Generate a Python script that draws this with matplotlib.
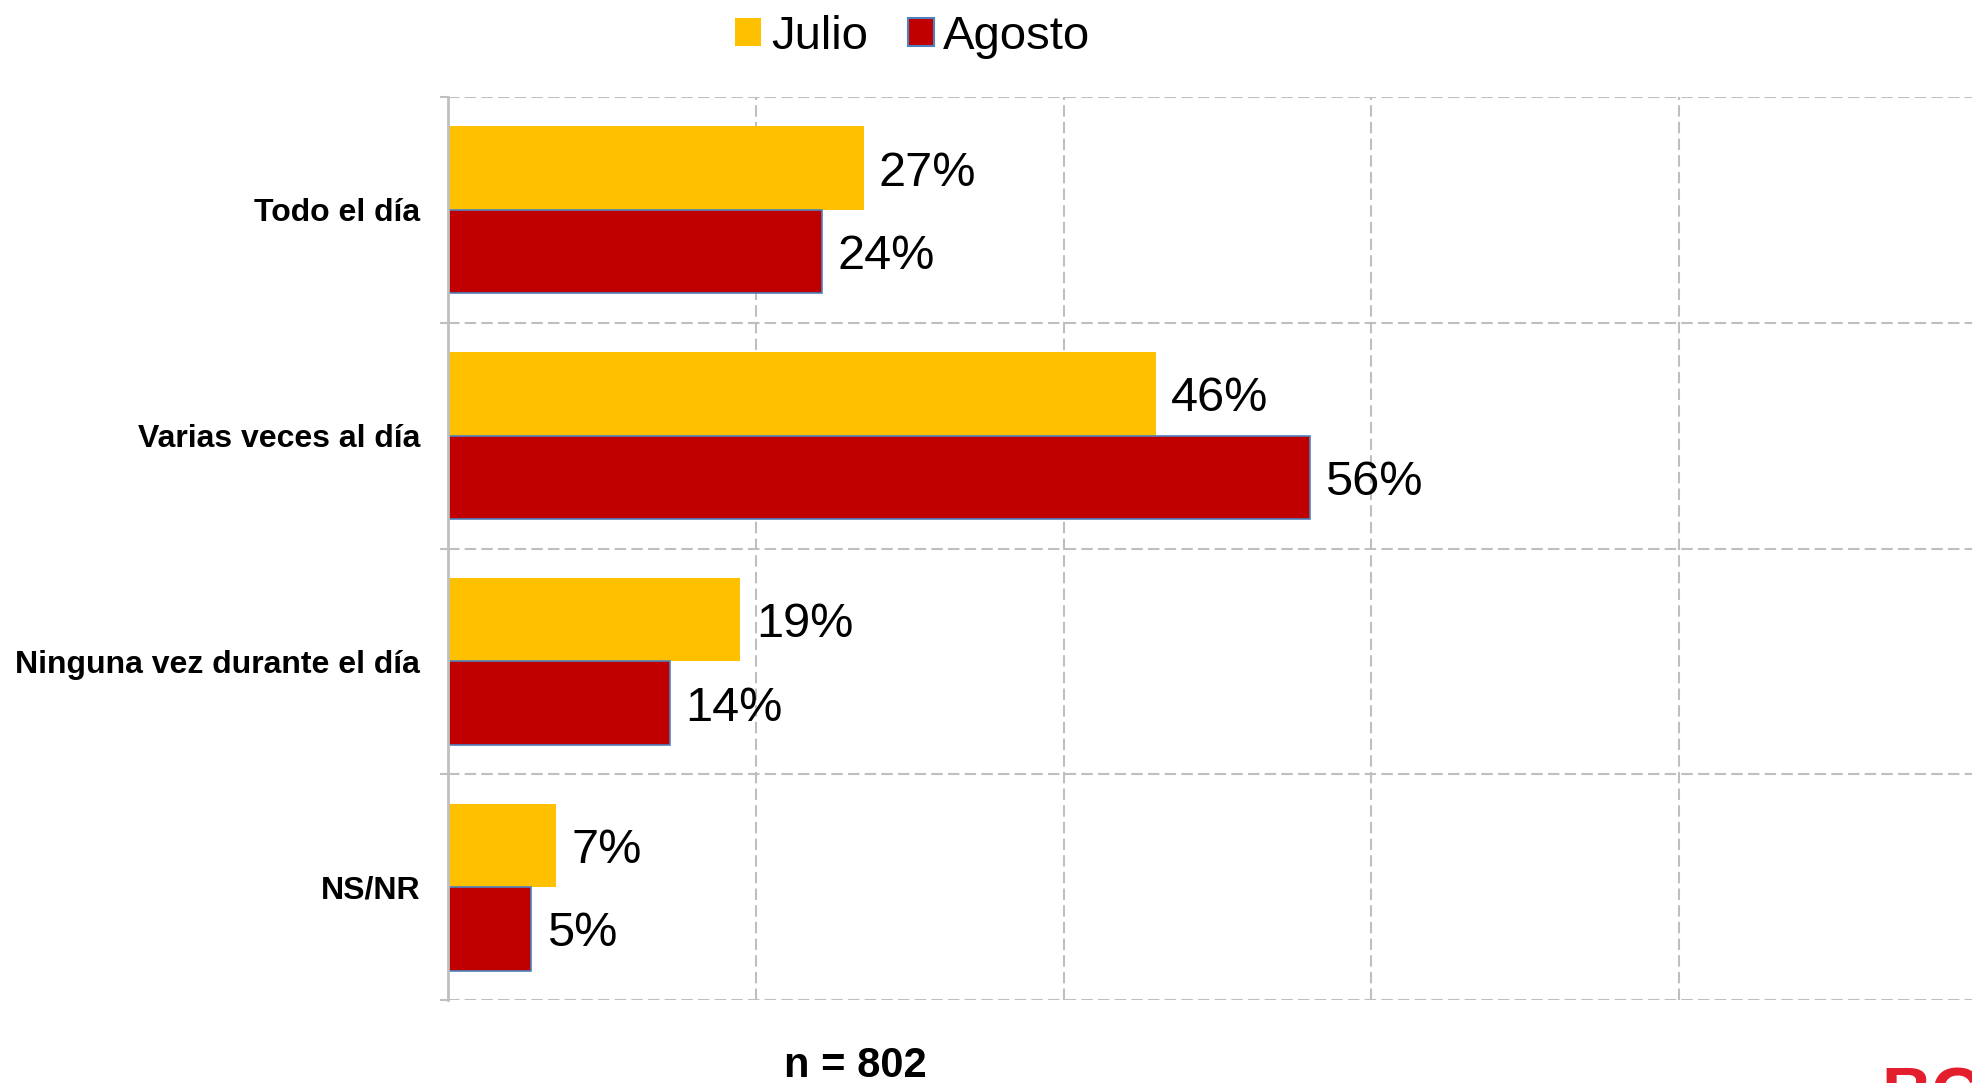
import numpy as np
from matplotlib import pyplot as plt
from matplotlib.patches import Patch
from matplotlib.ticker import MultipleLocator, FixedLocator

plt.rcParams['font.family'] = ['Liberation Sans', 'DejaVu Sans']

categories = ['Todo el día', 'Varias veces al día', 'Ninguna vez durante el día', 'NS/NR']
julio = [27, 46, 19, 7]
agosto = [24.3, 56, 14.4, 5.4]
series_names = ['Julio', 'Agosto']

col_julio = '#FFC000'
col_agosto = '#C00000'
grid_col = '#BFBFBF'

fig = plt.figure(figsize=(19.72, 10.83), dpi=100)
ax = fig.add_axes([0.2272, 0.0766, 0.7804, 0.8338])

y = np.arange(len(categories))
h = 0.37
ax.barh(y - h / 2, julio, height=h, color=col_julio, edgecolor='none', zorder=3)
ax.barh(y + h / 2, agosto, height=h, color=col_agosto, edgecolor='#4F81BD', linewidth=1.2, zorder=3)

# value labels
for i in range(len(categories)):
    ax.text(julio[i] + 1.0, y[i] - h / 2, f'{julio[i]:.0f}%', va='center_baseline', ha='left', fontsize=35, zorder=4)
    ax.text(agosto[i] + 1.0, y[i] + h / 2, f'{agosto[i]:.0f}%', va='center_baseline', ha='left', fontsize=35, zorder=4)

ax.set_xlim(0, 100)
ax.set_ylim(len(categories) - 0.5, -0.5)

ax.xaxis.set_major_locator(MultipleLocator(20))
ax.set_xticklabels([])
ax.tick_params(axis='x', length=0)

ax.set_yticks(y)
ax.set_yticklabels(categories, fontsize=23, fontweight='bold')
ax.yaxis.set_minor_locator(FixedLocator(np.arange(-0.5, len(categories), 1.0)))
ax.tick_params(axis='y', which='major', length=0, pad=20)
ax.tick_params(axis='y', which='minor', length=6, width=1.5, color=grid_col)

dash = (0, (5.5, 2.5))
ax.grid(axis='x', which='major', color=grid_col, linestyle=dash, linewidth=1.5, zorder=0)
ax.grid(axis='y', which='minor', color=grid_col, linestyle=dash, linewidth=1.5, zorder=0)

for s in ['top', 'right', 'bottom']:
    ax.spines[s].set_visible(False)
ax.spines['left'].set_color(grid_col)
ax.spines['left'].set_linewidth(2)
ax.spines['left'].set_zorder(5)

handles = [Patch(facecolor=col_julio, edgecolor='none'),
           Patch(facecolor=col_agosto, edgecolor='#4F81BD', linewidth=1.5)]
fig.legend(handles, series_names, loc='center', bbox_to_anchor=(0.463, 0.966), ncol=2,
           fontsize=34, frameon=False, handlelength=0.55, handleheight=0.55,
           handletextpad=0.2, columnspacing=0.85, borderpad=0.1)

fig.text(0.4335, 0.016, 'n = 802', ha='center', va='center', fontsize=30, fontweight='bold')
fig.text(0.954, 0.0166, 'BC', ha='left', va='top', fontsize=50, fontweight='bold', color='#E31E2D')

fig.savefig('out.png', dpi=100)
